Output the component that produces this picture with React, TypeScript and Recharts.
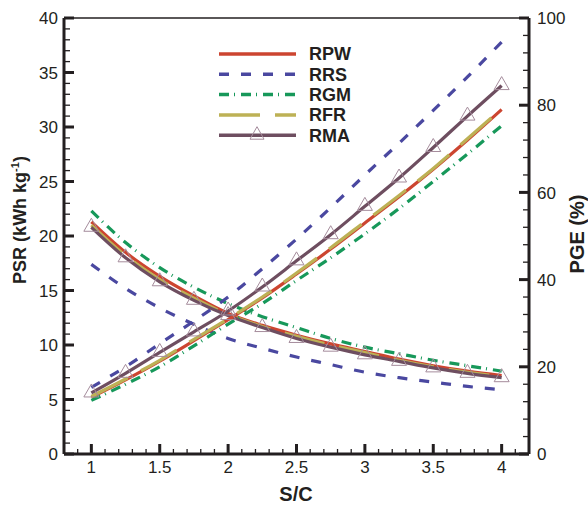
import React from 'react';
import { LineChart, Line, XAxis, YAxis, ReferenceLine } from 'recharts';

// S/C values
const sc = [1, 1.25, 1.5, 1.75, 2, 2.25, 2.5, 2.75, 3, 3.25, 3.5, 3.75, 4];

// PSR (kWh kg-1), left axis – decreasing curves
const psrRPW = [21.3, 18.5, 16.3, 14.5, 12.9, 11.8, 10.9, 10.1, 9.4, 8.7, 8.1, 7.6, 7.2];
const psrRRS = [17.4, 15.2, 13.4, 11.9, 10.6, 9.7, 8.9, 8.2, 7.5, 7.0, 6.6, 6.2, 5.9];
const psrRGM = [22.3, 19.4, 17.1, 15.3, 13.8, 12.6, 11.6, 10.6, 9.8, 9.2, 8.6, 8.1, 7.6];
const psrRFR = [21.0, 18.2, 16.0, 14.3, 12.8, 11.7, 10.8, 10.0, 9.3, 8.6, 8.0, 7.5, 7.1];
const psrRMA = [20.8, 18.0, 15.8, 14.1, 12.7, 11.6, 10.6, 9.8, 9.1, 8.5, 7.9, 7.4, 7.0];

// PGE (%), right axis – increasing curves
const pgeRPW = [13.0, 17.0, 21.3, 26.0, 30.8, 35.8, 41.3, 47.0, 53.0, 59.0, 65.3, 72.0, 79.0];
const pgeRRS = [15.3, 20.0, 25.3, 30.5, 36.0, 42.5, 49.3, 56.5, 64.0, 71.3, 78.8, 86.5, 94.5];
const pgeRGM = [12.3, 16.0, 20.0, 24.8, 29.8, 34.5, 39.8, 45.0, 50.5, 56.3, 62.5, 68.8, 75.3];
const pgeRFR = [13.2, 17.2, 21.5, 26.3, 31.0, 36.0, 41.5, 47.3, 53.3, 59.3, 65.5, 72.3, 79.2];
const pgeRMA = [14.0, 18.5, 23.3, 28.0, 32.8, 38.3, 44.3, 50.3, 56.8, 63.3, 70.3, 77.5, 84.5];

// tick values
const xMajorTicks = [1, 1.5, 2, 2.5, 3, 3.5, 4];
const leftMajorTicks = [0, 5, 10, 15, 20, 25, 30, 35, 40];
const rightMajorTicks = [0, 20, 40, 60, 80, 100];

const range = (a: number, b: number, step: number) => {
  const out: number[] = [];
  const n = Math.round((b - a) / step);
  for (let i = 0; i <= n; i++) out.push(Math.round((a + i * step) * 1000) / 1000);
  return out;
};
const xTicks = range(0.9, 4.1, 0.1);
const leftTicks = range(0, 40, 1);
const rightTicks = range(0, 100, 4);

const series = [
  { name: 'RPW', psr: psrRPW, pge: pgeRPW, color: '#cc4530', dash: undefined as string | undefined, marker: false },
  { name: 'RRS', psr: psrRRS, pge: pgeRRS, color: '#4a48a0', dash: '10 12', marker: false },
  { name: 'RGM', psr: psrRGM, pge: pgeRGM, color: '#17985a', dash: '10 5 1 6', marker: false },
  { name: 'RFR', psr: psrRFR, pge: pgeRFR, color: '#bdb155', dash: '41 15', marker: false },
  { name: 'RMA', psr: psrRMA, pge: pgeRMA, color: '#6e4e60', dash: undefined as string | undefined, marker: true },
];

const data = sc.map((x, i) => {
  const row: Record<string, number> = { x };
  series.forEach((s) => {
    row['psr' + s.name] = s.psr[i];
    row['pge' + s.name] = s.pge[i];
  });
  return row;
});

const INK = '#231f20';
const FONT = '"Liberation Sans", Arial, Helvetica, sans-serif';
const isIn = (arr: number[], v: number) => arr.some((t) => Math.abs(t - v) < 1e-6);

const XTick = (props: any) => {
  const { x, y, payload } = props;
  const v = payload.value;
  const major = isIn(xMajorTicks, v);
  return (
    <g>
      <line x1={x} x2={x} y1={y} y2={y - (major ? 10 : 5)} stroke={INK} strokeWidth={major ? 3 : 1.3} />
      {major && (
        <text x={x} y={y + 19} textAnchor="middle" fontSize={17} fill={INK} fontFamily={FONT}>
          {String(v)}
        </text>
      )}
    </g>
  );
};

const LeftTick = (props: any) => {
  const { x, y, payload } = props;
  const v = payload.value;
  const major = isIn(leftMajorTicks, v);
  return (
    <g>
      <line x1={x} x2={x + (major ? 10 : 6)} y1={y} y2={y} stroke={INK} strokeWidth={major ? 3 : 1.3} />
      {major && (
        <text x={x - 6} y={y} dy="0.36em" textAnchor="end" fontSize={17} fill={INK} fontFamily={FONT}>
          {String(v)}
        </text>
      )}
    </g>
  );
};

const RightTick = (props: any) => {
  const { x, y, payload } = props;
  const v = payload.value;
  const major = isIn(rightMajorTicks, v);
  return (
    <g>
      <line x1={x} x2={x - (major ? 10 : 6)} y1={y} y2={y} stroke={INK} strokeWidth={major ? 3 : 1.3} />
      {major && (
        <text x={x + 8} y={y} dy="0.36em" textAnchor="start" fontSize={17} fill={INK} fontFamily={FONT}>
          {String(v)}
        </text>
      )}
    </g>
  );
};

const TRI_STROKE = '#a58c9c';
const TriangleDot = (props: any) => {
  const { cx, cy } = props;
  if (cx == null || cy == null) return <g />;
  return (
    <path
      d={`M${cx},${cy - 9} L${cx + 7.5},${cy + 4} L${cx - 7.5},${cy + 4} Z`}
      fill="none"
      stroke={TRI_STROKE}
      strokeWidth={1}
    />
  );
};

export default function App() {
  return (
    <div style={{ position: 'absolute', left: 0, top: 0, width: 588, height: 506, background: '#fff' }}>
      <LineChart
        width={588}
        height={506}
        data={data}
        margin={{ top: 18, right: 0, bottom: 0, left: 0 }}
      >
        <XAxis
          dataKey="x"
          type="number"
          domain={[0.8, 4.2]}
          ticks={xTicks}
          interval={0}
          tickSize={0}
          tickMargin={0}
          tick={XTick}
          height={52}
          axisLine={{ stroke: INK, strokeWidth: 3 }}
          tickLine={false}
        />
        <YAxis
          yAxisId="left"
          orientation="left"
          type="number"
          domain={[0, 40]}
          ticks={leftTicks}
          interval={0}
          tickSize={0}
          tickMargin={0}
          tick={LeftTick}
          width={64}
          axisLine={{ stroke: INK, strokeWidth: 3 }}
          tickLine={false}
        />
        <YAxis
          yAxisId="right"
          orientation="right"
          type="number"
          domain={[0, 100]}
          ticks={rightTicks}
          interval={0}
          tickSize={0}
          tickMargin={0}
          tick={RightTick}
          width={59}
          axisLine={{ stroke: INK, strokeWidth: 3 }}
          tickLine={false}
        />
        <ReferenceLine yAxisId="left" y={40} stroke={INK} strokeWidth={1.3} />
        {series.map((s) => (
          <Line
            key={'psr' + s.name}
            yAxisId="left"
            type="monotone"
            dataKey={'psr' + s.name}
            stroke={s.color}
            strokeWidth={3.2}
            strokeDasharray={s.dash}
            dot={s.marker ? TriangleDot : false}
            activeDot={false}
            isAnimationActive={false}
          />
        ))}
        {series.map((s) => (
          <Line
            key={'pge' + s.name}
            yAxisId="right"
            type="monotone"
            dataKey={'pge' + s.name}
            stroke={s.color}
            strokeWidth={3.2}
            strokeDasharray={s.dash}
            dot={s.marker ? TriangleDot : false}
            activeDot={false}
            isAnimationActive={false}
          />
        ))}
      </LineChart>
      <svg
        width={588}
        height={506}
        style={{ position: 'absolute', left: 0, top: 0, pointerEvents: 'none' }}
        fontFamily={FONT}
      >
        {series.map((s, i) => {
          const y = 54 + i * 20.3;
          return (
            <g key={s.name}>
              <line x1={219} x2={296} y1={y} y2={y} stroke={s.color} strokeWidth={3.5} strokeDasharray={s.dash} />
              {s.marker && (
                <path d={`M257,${y - 8.5} L264,${y + 4} L250,${y + 4} Z`} fill="none" stroke={TRI_STROKE} strokeWidth={1} />
              )}
              <text x={309} y={y} dy="0.36em" fontSize={18} fontWeight="bold" fill={INK}>
                {s.name}
              </text>
            </g>
          );
        })}
        <text x={296} y={501} textAnchor="middle" fontSize={20} fontWeight="bold" fill={INK}>
          S/C
        </text>
        <text
          x={26}
          y={220}
          textAnchor="middle"
          fontSize={18}
          fontWeight="bold"
          fill={INK}
          transform="rotate(-90, 26, 220)"
        >
          PSR (kWh kg
          <tspan dy={-7} fontSize={11}>-1</tspan>
          <tspan dy={7}>)</tspan>
        </text>
        <text
          x={584}
          y={234}
          textAnchor="middle"
          fontSize={20}
          fontWeight="bold"
          fill={INK}
          transform="rotate(-90, 584, 234)"
        >
          PGE (%)
        </text>
      </svg>
    </div>
  );
}
